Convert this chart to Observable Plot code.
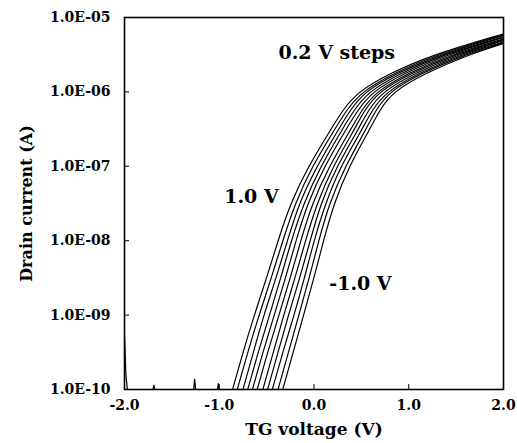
<!DOCTYPE html>
<html>
<head>
<meta charset="utf-8">
<script src="https://cdn.jsdelivr.net/npm/d3@7"></script>
<script src="https://cdn.jsdelivr.net/npm/@observablehq/plot@0.6"></script>
<style>
  html, body { margin: 0; padding: 0; background: #fff; }
</style>
</head>
<body>
<div id="chart"></div>
<script>
// Back-gate bias of each curve (0.2 V steps), leftmost curve = 1.0 V
const gateBias = ["1.0","0.8","0.6","0.4","0.2","0.0","-0.2","-0.4","-0.6","-0.8","-1.0"];

// TG voltage (V) at which each curve reaches a given log10(drain current)
const logLevels = [-10, -9.5, -9, -8.5, -8, -7.5, -7, -6.5, -6.25, -6, -5.75, -5.5];
const xAtLevel = [
  [-0.86,-0.81,-0.75,-0.70,-0.65,-0.60,-0.54,-0.49,-0.44,-0.38,-0.33],
  [-0.75,-0.70,-0.64,-0.59,-0.54,-0.49,-0.43,-0.38,-0.33,-0.27,-0.22],
  [-0.63,-0.58,-0.53,-0.47,-0.42,-0.37,-0.32,-0.27,-0.21,-0.16,-0.11],
  [-0.50,-0.45,-0.40,-0.35,-0.30,-0.25,-0.20,-0.15,-0.10,-0.05, 0.00],
  [-0.38,-0.33,-0.28,-0.24,-0.19,-0.14,-0.09,-0.04, 0.00, 0.05, 0.10],
  [-0.25,-0.20,-0.16,-0.11,-0.07,-0.02, 0.03, 0.07, 0.12, 0.16, 0.21],
  [-0.06,-0.02, 0.03, 0.07, 0.11, 0.16, 0.20, 0.24, 0.28, 0.33, 0.37],
  [ 0.18, 0.22, 0.26, 0.30, 0.34, 0.39, 0.43, 0.47, 0.51, 0.55, 0.59],
  [ 0.30, 0.34, 0.38, 0.42, 0.46, 0.50, 0.53, 0.57, 0.61, 0.65, 0.69],
  [ 0.46, 0.50, 0.53, 0.57, 0.61, 0.65, 0.68, 0.72, 0.76, 0.79, 0.83],
  [ 0.80, 0.84, 0.87, 0.91, 0.95, 0.99, 1.02, 1.06, 1.10, 1.13, 1.17],
  [ 1.25, 1.29, 1.33, 1.36, 1.40, 1.44, 1.48, 1.52, 1.55, 1.59, 1.63]
];

// log10(drain current) of each curve at the right edge, TG = 2.0 V
const xEnd = 2.0;
const logAtEnd = [-5.22,-5.23,-5.24,-5.26,-5.27,-5.29,-5.30,-5.31,-5.33,-5.34,-5.35];

// Noise-floor trace near 1E-10 A at low TG voltage
const noiseX   = [-2.0, -1.985, -1.97, -1.70, -1.69, -1.68, -1.27, -1.26, -1.25, -1.02, -1.01, -1.00, -0.86];
const noiseLog = [-9.27, -9.8, -10, -10, -9.94, -10, -10, -9.86, -10, -10, -9.92, -10, -10];

// Axis ticks
const yTicks = [1e-10, 1e-9, 1e-8, 1e-7, 1e-6, 1e-5];
const xTicks = [-2, -1, 0, 1, 2];

// Annotations
const noteText = ["0.2 V steps", "1.0 V", "-1.0 V"];
const noteX = [0.24, -0.66, 0.49];
const noteLog = [-5.47, -7.41, -8.58];

// Build tables
const rows = [];
gateBias.forEach((b, k) => {
  logLevels.forEach((lv, i) => rows.push({bias: b, x: xAtLevel[i][k], y: Math.pow(10, lv)}));
  rows.push({bias: b, x: xEnd, y: Math.pow(10, logAtEnd[k])});
});
const noise = noiseX.map((x, i) => ({x, y: Math.pow(10, noiseLog[i])}));
const notes = noteText.map((t, i) => ({t, x: noteX[i], y: Math.pow(10, noteLog[i])}));

const font = "'DejaVu Serif', serif";

const chart = Plot.plot({
  width: 517,
  height: 443,
  marginLeft: 124,
  marginRight: 14,
  marginTop: 17,
  marginBottom: 54,
  style: {fontFamily: font, fontWeight: "bold", fontSize: "14px", background: "#fff", color: "#000"},
  x: {domain: [-2, 2]},
  y: {type: "log", domain: [1e-10, 1e-5]},
  marks: [
    Plot.line(noise, {x: "x", y: "y", stroke: "#000", strokeWidth: 1.2, clip: true}),
    Plot.line(rows, {x: "x", y: "y", z: "bias", curve: "basis", stroke: "#000", strokeWidth: 1.2, clip: true}),
    Plot.frame({stroke: "#000", strokeWidth: 1.6}),
    Plot.axisY({ticks: yTicks, tickSize: -5, tickPadding: 19, label: null,
      tickFormat: d => "1.0E-" + String(Math.round(-Math.log10(d))).padStart(2, "0")}),
    Plot.axisX({ticks: xTicks, tickSize: -5, tickPadding: 16, label: null,
      tickFormat: d => d.toFixed(1)}),
    Plot.text(notes, {x: "x", y: "y", text: "t", fontSize: 19, fontWeight: "bold", fill: "#000"}),
    Plot.text(["Drain current (A)"], {frameAnchor: "left", textAnchor: "middle", rotate: -90, dx: -98, fontSize: 16, fontWeight: "bold", fill: "#000"}),
    Plot.text(["TG voltage (V)"], {frameAnchor: "bottom", textAnchor: "middle", dy: 45, fontSize: 17, fontWeight: "bold", fill: "#000"})
  ]
});
document.getElementById("chart").appendChild(chart);
</script>
</body>
</html>
